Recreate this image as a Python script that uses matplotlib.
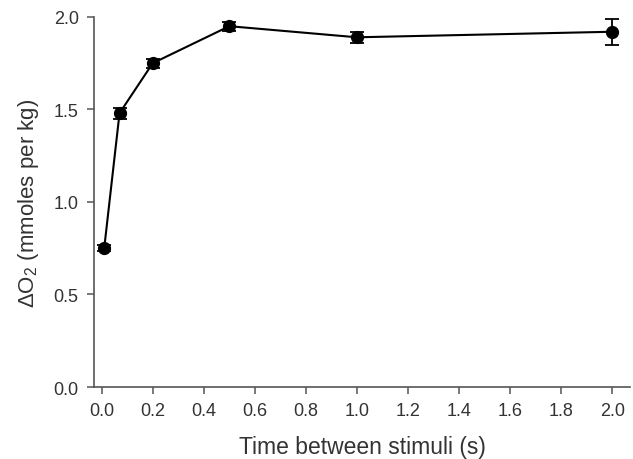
import matplotlib.pyplot as plt

plt.rcParams['font.family'] = ['Liberation Sans', 'DejaVu Sans']
plt.rcParams['mathtext.fontset'] = 'custom'
plt.rcParams['mathtext.rm'] = 'Liberation Sans'
plt.rcParams['mathtext.it'] = 'Liberation Sans:italic'

# data
interval_s = [0.01, 0.07, 0.2, 0.5, 1.0, 2.0]
delta_o2 = [0.75, 1.48, 1.75, 1.95, 1.89, 1.92]
delta_err = [0.015, 0.03, 0.025, 0.025, 0.03, 0.07]

x_ticks = [0.0, 0.2, 0.4, 0.6, 0.8, 1.0, 1.2, 1.4, 1.6, 1.8, 2.0]
y_ticks = [0.0, 0.5, 1.0, 1.5, 2.0]

fig = plt.figure(figsize=(6.33, 4.6), dpi=100)
ax = fig.add_axes([0.1485, 0.1565, 0.847, 0.8045])

ax.errorbar(interval_s, delta_o2, yerr=delta_err, color='black', lw=1.5,
            marker='o', markersize=8.5, capsize=5, elinewidth=1.3, capthick=1.3)

ax.set_xlim(-0.03, 2.07)
ax.set_ylim(0, 2.0)
ax.set_xticks(x_ticks)
ax.set_xticklabels([f"{v:.1f}" for v in x_ticks])
ax.set_yticks(y_ticks)
ax.set_yticklabels([f"{v:.1f}" for v in y_ticks])

for side in ('top', 'right'):
    ax.spines[side].set_visible(False)
for side in ('left', 'bottom'):
    ax.spines[side].set_color('#555555')
    ax.spines[side].set_linewidth(1.2)
ax.tick_params(direction='out', length=5, width=1.1, color='#555555',
               labelsize=13, labelcolor='#333333', pad=6)

ax.set_xlabel('Time between stimuli (s)', fontsize=16.5, color='#333333', labelpad=11)
ax.set_ylabel(r'$\Delta$O$_2$ (mmoles per kg)', fontsize=16, color='#333333', labelpad=9)

fig.savefig('out.png', dpi=100)
